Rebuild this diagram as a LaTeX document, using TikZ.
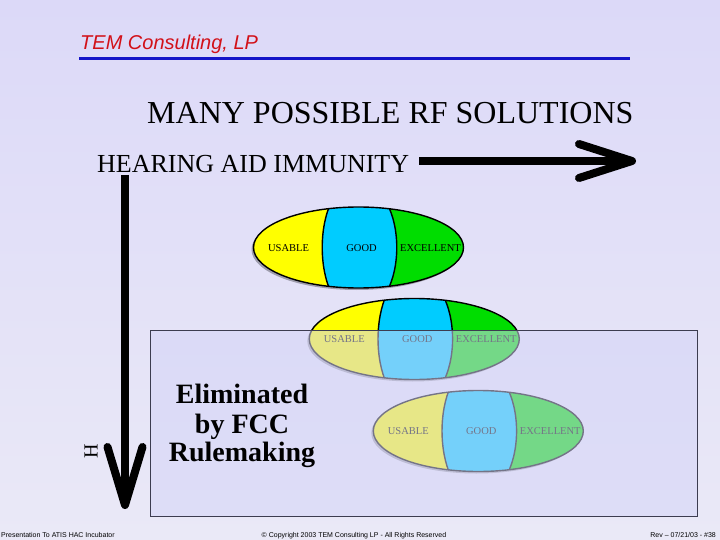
\documentclass[tikz,border=0pt]{standalone}
\usepackage{fontspec}
\setmainfont{Liberation Serif}
\newfontfamily\arialf{Liberation Sans}
\definecolor{bgtop}{RGB}{220,217,248}
\definecolor{bgbot}{RGB}{234,233,247}
\definecolor{ylw}{RGB}{255,255,0}
\definecolor{blu}{RGB}{0,204,255}
\definecolor{grn}{RGB}{0,221,0}
\definecolor{boxfill}{RGB}{212,212,247}
\definecolor{boxline}{RGB}{60,60,80}
\definecolor{temred}{RGB}{210,16,24}
\definecolor{temblue}{RGB}{20,20,200}
\tikzset{
  lab/.style={font=\fontsize{10.5bp}{12bp}\selectfont, inner sep=0pt},
  outl/.style={draw=black, line width=1.4bp},
  bigline/.style={line width=8bp, line join=round},
  armline/.style={line width=8bp, line cap=round, line join=round},
  foot/.style={font=\arialf\fontsize{7bp}{8bp}\selectfont, inner sep=0pt},
  trio/.pic={
    \fill[black, opacity=0.3] (-2,2) ellipse [x radius=105, y radius=40.5];
    \begin{scope}
      \clip (0,0) ellipse [x radius=105, y radius=40.5];
      \fill[ylw] (-110,-45) rectangle (110,45);
      \fill[grn] (28,-45) .. controls (41.7,-20) and (41.7,20) .. (28,45) -- (110,45) -- (110,-45) -- cycle;
      \fill[blu] (-27.5,-45) .. controls (-39.2,-20) and (-39.2,20) .. (-27.5,45) -- (28,45) .. controls (41.7,20) and (41.7,-20) .. (28,-45) -- cycle;
      \draw[outl] (-27.5,-45) .. controls (-39.2,-20) and (-39.2,20) .. (-27.5,45);
      \draw[outl] (28,-45) .. controls (41.7,-20) and (41.7,20) .. (28,45);
    \end{scope}
    \draw[outl] (0,0) ellipse [x radius=105, y radius=40.5];
    \node[lab] (-u) at (-70,0.5) {USABLE};
    \node[lab] (-g) at (3,0.5) {GOOD};
    \node[lab] (-x) at (72,0.5) {EXCELLENT};
  }
}
\begin{document}
\begin{tikzpicture}[x=1bp,y=-1bp]
  \useasboundingbox (0,0) rectangle (720,540);
  \shade[top color=bgtop, bottom color=bgbot] (0,0) rectangle (720,540);

  % header
  \node[anchor=base west, inner sep=0pt, text=temred,
        font=\arialf\itshape\fontsize{20bp}{22bp}\selectfont] (tem) at (80,50) {TEM Consulting, LP};
  \coordinate (bl1) at (79,59);
  \coordinate (bl2) at (630,59);
  \draw[temblue, line width=3bp] (bl1) -- (bl2);

  % titles
  \node[anchor=base west, inner sep=0pt, font=\fontsize{32bp}{36bp}\selectfont] (title) at (147,123.5) {MANY POSSIBLE RF SOLUTIONS};
  \node[anchor=base west, inner sep=0pt, font=\fontsize{26bp}{30bp}\selectfont] (hai) at (97,173) {HEARING AID IMMUNITY};

  % horizontal arrow
  \coordinate (hs) at (419,161);
  \coordinate (he) at (632,161);
  \coordinate (ha1) at (579,144);
  \coordinate (ha2) at (579,178);
  \draw[bigline] (hs) -- (he);
  \draw[armline] (ha1) -- (he) -- (ha2);

  % vertical arrow
  \coordinate (vs) at (125,175);
  \coordinate (ve) at (125,505);
  \coordinate (va1) at (107.5,447);
  \coordinate (va2) at (142.5,447);
  \draw[bigline] (vs) -- (ve);
  \draw[armline] (va1) -- (ve) -- (va2);

  \node[rotate=90, inner sep=0pt, font=\fontsize{20bp}{22bp}\selectfont] (hv) at (91,451) {H};

  % ellipses
  \pic (e1) at (358.5,247.5) {trio};
  \pic (e2) at (414.3,339) {trio};
  \pic (e3) at (478.3,431) {trio};

  % overlay box
  \node[draw=boxline, line width=1bp, fill=boxfill, fill opacity=0.55,
        minimum width=547bp, minimum height=186bp, inner sep=0pt, anchor=north west] (elim) at (150,330) {};

  \node[anchor=base, inner sep=0pt, font=\bfseries\fontsize{28bp}{30bp}\selectfont] (t1) at (242,403.3) {Eliminated};
  \node[anchor=base, inner sep=0pt, font=\bfseries\fontsize{28bp}{30bp}\selectfont] (t2) at (242,433) {by FCC};
  \node[anchor=base, inner sep=0pt, font=\bfseries\fontsize{28bp}{30bp}\selectfont] (t3) at (242,461.7) {Rulemaking};

  % footer
  \node[foot, anchor=base west] (f1) at (1,537) {Presentation To ATIS HAC Incubator};
  \node[foot, anchor=base] (f2) at (354,537) {© Copyright 2003 TEM Consulting LP - All Rights Reserved};
  \node[foot, anchor=base east] (f3) at (716,537) {Rev – 07/21/03 - \#38};
\end{tikzpicture}
\end{document}
